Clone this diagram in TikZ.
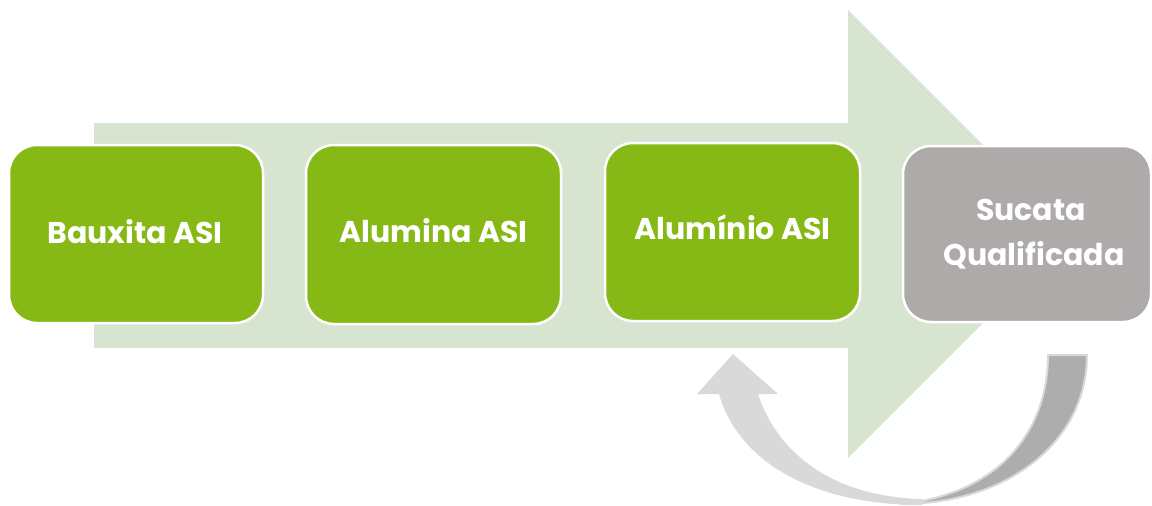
\documentclass[tikz,border=0pt]{standalone}
\usepackage{fontspec}
\setmainfont{Poppins}[BoldFont={* Bold}]
\definecolor{bgarrow}{HTML}{D7E4D0}
\definecolor{boxgreen}{HTML}{86B915}
\definecolor{boxgray}{HTML}{ADAAA9}
\definecolor{lightgray}{HTML}{D9D9D9}
\definecolor{darkgray}{HTML}{ADADAD}
\begin{document}
\begin{tikzpicture}[x=1pt,y=-1pt,
  stagebox/.style={draw=white,line width=2.5pt,rounded corners=28pt,inner sep=0pt},
  lbl/.style={text=white,font=\fontsize{30}{44}\selectfont\bfseries,inner sep=0pt,anchor=base,align=center}]
\useasboundingbox (0,0) rectangle (1152,506);
% background arrow
\fill[bgarrow] (94,123) -- (848,123) -- (848,10) -- (1072,234) -- (848,458) -- (848,348) -- (94,348) -- cycle;
% boxes
\path[stagebox,fill=boxgreen] (9,145) rectangle (263,323) coordinate (b1);
\path[stagebox,fill=boxgreen] (306,145) rectangle (561,324) coordinate (b2);
\path[stagebox,fill=boxgreen] (605,143) rectangle (860,321) coordinate (b3);
\path[stagebox,fill=boxgray] (903,146) rectangle (1151,322) coordinate (b4);
\node[lbl] (t1) at (135,243) {Bauxita ASI};
\node[lbl] (t2) at (433.5,242) {Alumina ASI};
\node[lbl] (t3) at (732.5,239) {Alumínio ASI};
\node[lbl] (t4) at (1031,220) {Sucata};
\node[lbl] (t5) at (1034,265) {Qualificada};
% curved return arrow: light part with head
\fill[lightgray] (719,394) .. controls (738,460) and (810,505) .. (922,505)
  -- (922,499) .. controls (835,497) and (778,455) .. (758,394)
  -- (778,394) -- (733,354) -- (697,394) -- cycle;
% dark part
\filldraw[fill=darkgray,draw=lightgray,line width=2pt] (1087,355) .. controls (1087,440) and (1010,504) .. (900,504)
  .. controls (995,495) and (1048,435) .. (1048,355) -- cycle;
\end{tikzpicture}
\end{document}
